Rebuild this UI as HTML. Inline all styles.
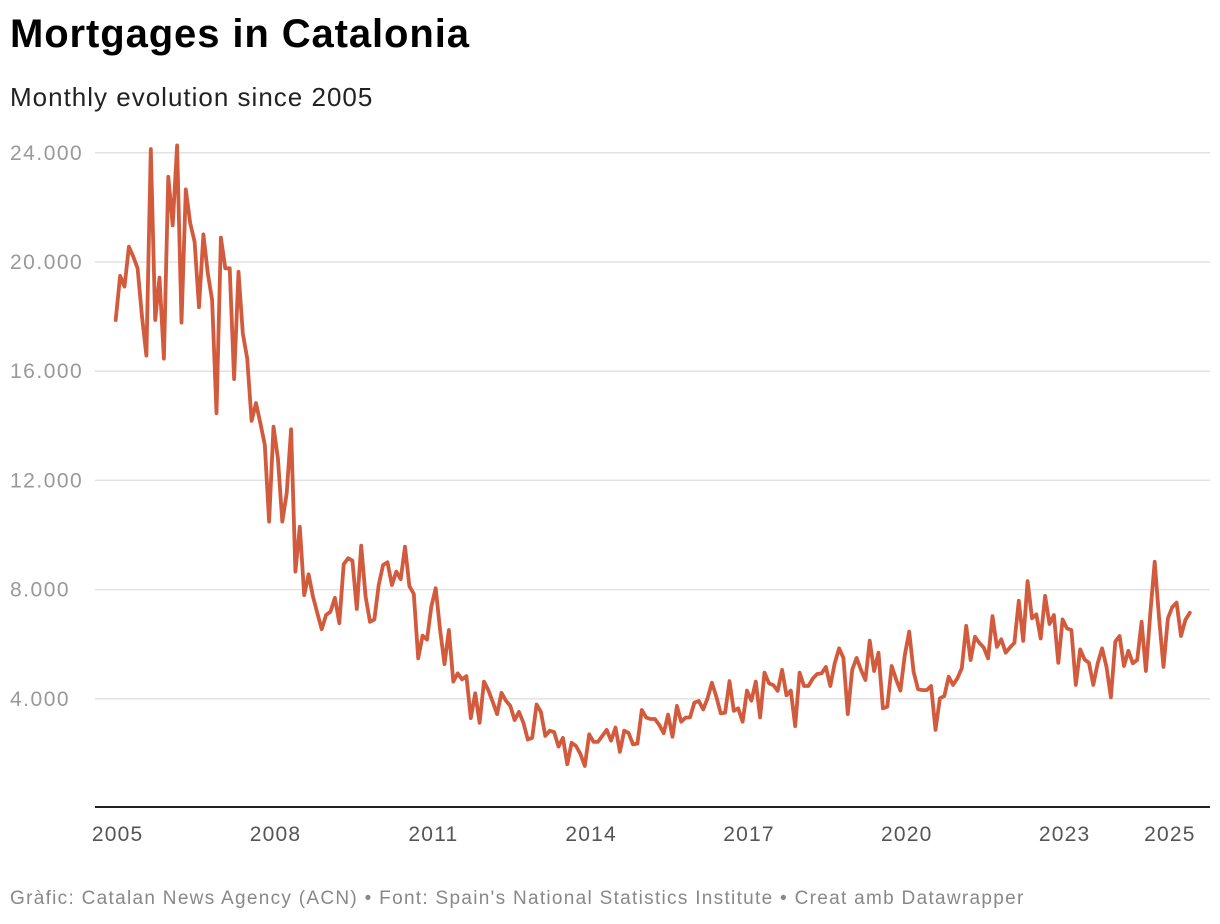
<!DOCTYPE html>
<html><head><meta charset="utf-8"><style>
body{margin:0;background:#fff;font-family:"Liberation Sans",Arial,sans-serif;}
#wrap{position:relative;width:1220px;height:924px;overflow:hidden;}
h1{position:absolute;left:10px;top:12px;margin:0;font-size:40px;font-weight:bold;color:#000;letter-spacing:0.9px}
.sub{position:absolute;left:10px;top:82px;font-size:26px;color:#222;letter-spacing:1px}
.foot{position:absolute;left:10px;top:888px;font-size:19px;color:#888;letter-spacing:1.3px}
</style></head><body><div id="wrap">
<h1>Mortgages in Catalonia</h1>
<div class="sub">Monthly evolution since 2005</div>
<svg id="c" width="1220" height="924" style="position:absolute;left:0;top:0"></svg>
<div class="foot">Gràfic: Catalan News Agency (ACN) • Font: Spain's National Statistics Institute • Creat amb Datawrapper</div>
</div>
<script>
const values=[17875,19490,19100,20560,20200,19770,18000,16570,24140,17875,19430,16460,23120,21340,24270,17780,22660,21420,20740,18340,21010,19590,18610,14460,20890,19770,19770,15710,19640,17390,16470,14180,14830,14090,13300,10490,13970,12810,10490,11530,13870,
8660,10300,7800,8560,7740,7130,6550,7070,7190,7700,6770,8930,9150,9060,7290,9610,7740,6820,6910,8170,8900,9000,8170,8660,8380,9570,8130,7840,5480,6310,6170,7370,8050,6520,5270,6520,4630,4930,4710,4830,3290,4200,3120,
4630,4320,3890,3440,4220,3930,3740,3220,3520,3120,2510,2570,3790,3520,2640,2830,2780,2250,2570,1600,2390,2270,1980,1540,2700,2420,2420,2640,2860,2470,2950,2060,2830,2750,2330,2360,3590,3310,3260,3260,3040,2740,3420,2610,3740,3160,3310,3320,3860,3920,
3610,4010,4590,4080,3470,3490,4650,3560,3650,3160,4300,3930,4630,3320,4960,4570,4500,4290,5060,4130,4300,3000,4960,4470,4470,4740,4910,4930,5170,4470,5300,5850,5500,3440,5060,5500,5060,4690,6130,5020,5690,3650,3710,5200,4710,4300,5600,6460,4990,4350,4320,4320,
4470,2860,4020,4100,4810,4510,4750,5120,6670,5420,6270,6050,5880,5480,7030,5900,6180,5690,5880,6050,7590,6120,8310,6950,7090,6210,7770,6740,7070,5320,6910,6580,6520,4510,5810,5440,5320,4510,5300,5850,5170,4050,6090,6300,5200,5760,5300,5420,6820,5020,7130,9020,6950,5170,6950,7350,7520,6300,6890,7150];
const startYear=2005;
const yTicks=[4000,8000,12000,16000,20000,24000];
const yTickLabels=["4.000","8.000","12.000","16.000","20.000","24.000"];
const xTicks=[2005,2008,2011,2014,2017,2020,2023,2025];

const svg=document.getElementById('c');
const NS='http://www.w3.org/2000/svg';
const x0=115.7, step=4.384;
function xScale(m){return x0+m*step;}
function yScale(v){return 808-v*(109.2/4000);}
function mk(t,a){const e=document.createElementNS(NS,t);for(const k in a)e.setAttribute(k,a[k]);svg.appendChild(e);return e;}
yTicks.forEach((v,i)=>{
  const y=yScale(v);
  const g=mk('line',{x1:95,x2:1210,y1:y,y2:y,stroke:'#e2e2e2','stroke-width':1.5});
  
  
  const t=mk('text',{x:10,y:y+7,'font-size':21,fill:'#999','letter-spacing':1.5,'font-family':'Liberation Sans, sans-serif'});
  t.textContent=yTickLabels[i];
  
  
});
const ax=mk('line',{x1:95,x2:1210,y1:807,y2:807,stroke:'#222','stroke-width':2});


xTicks.forEach(yr=>{
  const t=mk('text',{x:xScale((yr-startYear)*12)+2,y:841,'font-size':21,fill:'#555','letter-spacing':1.2,'text-anchor':'middle','font-family':'Liberation Sans, sans-serif'});
  t.textContent=yr;
  
  
});
const d=values.map((v,i)=>(i?'L':'M')+xScale(i).toFixed(1)+','+yScale(v).toFixed(1)).join('');
const p=mk('path',{d:d,fill:'none',stroke:'#d25a3d','stroke-width':3.8,'stroke-linejoin':'round','stroke-linecap':'round'});


</script></body></html>
